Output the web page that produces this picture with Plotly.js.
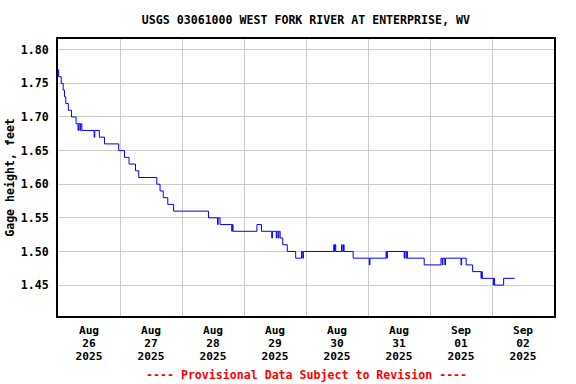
<!DOCTYPE html>
<html>
<head>
<meta charset="utf-8">
<script src="https://cdn.plot.ly/plotly-3.0.1.min.js"></script>
<style>html,body{margin:0;padding:0;background:#fff}</style>
</head>
<body>
<div id="chart" style="width:576px;height:384px"></div>
<script>
// Gage height readings (change points of the step trace)
const times = [
"2025-08-26 00:00","2025-08-26 00:15","2025-08-26 01:15","2025-08-26 02:00","2025-08-26 02:30",
"2025-08-26 03:00","2025-08-26 04:00","2025-08-26 05:15","2025-08-26 07:00","2025-08-26 07:45",
"2025-08-26 08:00","2025-08-26 08:30","2025-08-26 08:45","2025-08-26 09:15","2025-08-26 14:00",
"2025-08-26 14:15","2025-08-26 16:00","2025-08-26 18:00","2025-08-26 23:30","2025-08-27 01:45",
"2025-08-27 03:30","2025-08-27 06:00","2025-08-27 07:15","2025-08-27 14:15","2025-08-27 15:30",
"2025-08-27 16:45","2025-08-27 18:30","2025-08-27 20:45","2025-08-28 10:15","2025-08-28 13:45",
"2025-08-28 14:00","2025-08-28 14:45","2025-08-28 19:15","2025-08-28 19:30","2025-08-28 19:45",
"2025-08-29 05:00","2025-08-29 06:45","2025-08-29 10:45","2025-08-29 11:00","2025-08-29 12:30",
"2025-08-29 12:45","2025-08-29 13:15","2025-08-29 13:30","2025-08-29 14:00","2025-08-29 15:00",
"2025-08-29 16:45","2025-08-29 20:00","2025-08-29 22:15","2025-08-29 22:45","2025-08-29 23:00",
"2025-08-30 10:45","2025-08-30 11:00","2025-08-30 11:15","2025-08-30 11:30","2025-08-30 13:45",
"2025-08-30 14:00","2025-08-30 14:30","2025-08-30 14:45","2025-08-30 18:15","2025-08-31 00:30",
"2025-08-31 00:45","2025-08-31 07:00","2025-08-31 07:15","2025-08-31 07:30","2025-08-31 14:00",
"2025-08-31 14:15","2025-08-31 14:45","2025-08-31 15:00","2025-08-31 15:15","2025-08-31 21:45",
"2025-09-01 04:15","2025-09-01 04:45","2025-09-01 05:00","2025-09-01 05:45","2025-09-01 06:00",
"2025-09-01 12:00","2025-09-01 12:15","2025-09-01 14:00","2025-09-01 16:30","2025-09-01 19:45",
"2025-09-01 20:00","2025-09-01 20:15","2025-09-02 00:30","2025-09-02 00:45","2025-09-02 01:00",
"2025-09-02 04:30","2025-09-02 08:45"
];
const gageHeight = [
1.77,1.76,1.75,1.74,1.73,
1.72,1.71,1.70,1.69,1.68,
1.69,1.68,1.69,1.68,1.67,
1.68,1.67,1.66,1.65,1.64,
1.63,1.62,1.61,1.60,1.59,
1.58,1.57,1.56,1.55,1.54,
1.55,1.54,1.53,1.54,1.53,
1.54,1.53,1.52,1.53,1.52,
1.53,1.52,1.53,1.52,1.51,
1.50,1.49,1.50,1.49,1.50,
1.51,1.50,1.51,1.50,1.51,
1.50,1.51,1.50,1.49,1.48,
1.49,1.50,1.49,1.50,1.49,
1.50,1.49,1.50,1.49,1.48,
1.49,1.48,1.49,1.48,1.49,
1.48,1.49,1.48,1.47,1.46,
1.47,1.46,1.45,1.46,1.45,
1.46,1.46
];
const yTickVals = [1.45,1.50,1.55,1.60,1.65,1.70,1.75,1.80];
const xRange = ["2025-08-26 00:00","2025-09-03 00:00"];
const yRange = [1.404,1.816];
// x tick label rows: month, day, year
const xLabelFormats = ["%b","%d","%Y"];
const chartTitle = "USGS 03061000 WEST FORK RIVER AT ENTERPRISE, WV";
const yTitle = "Gage height, feet";
const footNote = "---- Provisional Data Subject to Revision ----";

const mono = {family:"DejaVu Sans Mono, monospace", size:11.6, color:"#000", weight:"bold"};
const monoX = Object.assign({}, mono, {size:11.2});
const DAY = 86400000;

const traces = [{
  x: times, y: gageHeight, type:"scatter", mode:"lines",
  line:{color:"#0000ff", width:1, shape:"hv"}, hoverinfo:"skip"
}];
// invisible carriers for the extra label rows
["x2","x3"].forEach(ax => traces.push({
  x: xRange, y: [yRange[0], yRange[0]], xaxis: ax, type:"scatter", mode:"lines",
  line:{color:"rgba(0,0,0,0)", width:0}, hoverinfo:"skip"
}));

function labelAxis(fmt, len, extra) {
  return Object.assign({
    type:"date", range:xRange, dtick:DAY, tick0:"2025-08-26",
    ticklabelmode:"period", tickformat:fmt,
    ticks:"outside", ticklen:len, tickcolor:"rgba(0,0,0,0)",
    tickfont:monoX, zeroline:false, fixedrange:true
  }, extra);
}

Plotly.newPlot("chart", traces, {
  width:576, height:384,
  margin:{l:58, r:22, t:39, b:68, pad:0},
  paper_bgcolor:"#fff", plot_bgcolor:"#fff",
  showlegend:false,
  title:{text:chartTitle, font:mono, x:0.531, xanchor:"center", y:0.948, yanchor:"middle"},
  xaxis: labelAxis(xLabelFormats[0], 3, {
    showgrid:true, gridcolor:"#cccccc", gridwidth:1,
    showline:true, linecolor:"#000", linewidth:2, mirror:true
  }),
  xaxis2: labelAxis(xLabelFormats[1], 16.5, {overlaying:"x", side:"bottom", showgrid:false, showline:false}),
  xaxis3: labelAxis(xLabelFormats[2], 30, {overlaying:"x", side:"bottom", showgrid:false, showline:false}),
  yaxis:{
    range:yRange, tickmode:"array", tickvals:yTickVals, tickformat:".2f",
    showgrid:true, gridcolor:"#cccccc", gridwidth:1,
    showline:true, linecolor:"#000", linewidth:2, mirror:true,
    ticks:"outside", ticklen:5, tickcolor:"rgba(0,0,0,0)",
    tickfont:mono, zeroline:false, fixedrange:true,
    title:{text:yTitle, font:mono, standoff:4}
  },
  annotations:[{
    text:footNote, xref:"paper", yref:"paper", x:0.5, y:-0.212,
    xanchor:"center", yanchor:"middle", showarrow:false,
    font:{family:mono.family, size:11.6, color:"#ff0000", weight:"bold"}
  }]
}, {displayModeBar:false, staticPlot:true});
</script>
</body>
</html>
